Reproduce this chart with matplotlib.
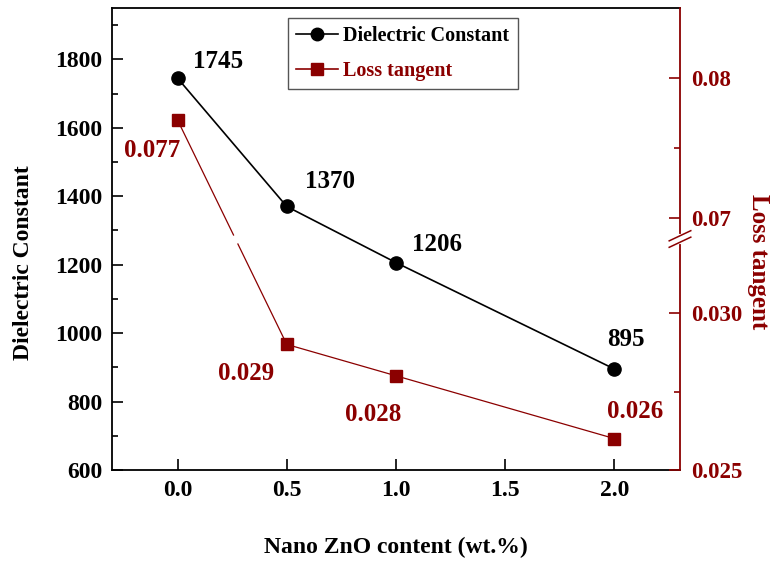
import numpy as np
import matplotlib
matplotlib.use("Agg")
import matplotlib.pyplot as plt
from matplotlib.lines import Line2D
from matplotlib.ticker import FixedLocator, FixedFormatter, MultipleLocator

# ---- data ----
zno = [0.0, 0.5, 1.0, 2.0]
dielectric = [1745, 1370, 1206, 895]
loss = [0.077, 0.029, 0.028, 0.026]
dielectric_labels = ["1745", "1370", "1206", "895"]
loss_labels = ["0.077", "0.029", "0.028", "0.026"]
loss_ticks = [0.025, 0.030, 0.07, 0.08]
loss_tick_labels = ["0.025", "0.030", "0.07", "0.08"]
loss_minor = [0.0275, 0.075]

RED = "#8B0000"
plt.rcParams["font.family"] = ["Liberation Serif", "DejaVu Serif"]
plt.rcParams["font.weight"] = "bold"

# broken-axis scale for loss tangent
F_LO, F_HI = 230.0, 232.0
L = 0.025 + F_LO / 31400.0
U = 0.07 - (252.0 - F_HI) / 14000.0


def fwd(v):
    v = np.asarray(v, dtype=float)
    return np.where(v <= L, (v - 0.025) * 31400.0,
                    np.where(v >= U, 252.0 + (v - 0.07) * 14000.0,
                             F_LO + (v - L) / (U - L) * (F_HI - F_LO)))


def inv(f):
    f = np.asarray(f, dtype=float)
    return np.where(f <= F_LO, 0.025 + f / 31400.0,
                    np.where(f >= F_HI, 0.07 + (f - 252.0) / 14000.0,
                             L + (f - F_LO) / (F_HI - F_LO) * (U - L)))


fig = plt.figure(figsize=(7.7, 5.61), dpi=100)
ax = fig.add_axes([112 / 770, 91 / 561, 568 / 770, 462 / 561])
ax2 = ax.twinx()

# dielectric constant
ax.plot(zno, dielectric, color="black", lw=1.2, marker="o", ms=9.5, zorder=3)
ax.set_xlim(-0.3, 2.3)
ax.set_ylim(600, 1950)
ax.yaxis.set_major_locator(FixedLocator([600, 800, 1000, 1200, 1400, 1600, 1800]))
ax.yaxis.set_minor_locator(MultipleLocator(100))
ax.xaxis.set_major_locator(FixedLocator([0.0, 0.5, 1.0, 1.5, 2.0]))
ax.xaxis.set_major_formatter(FixedFormatter(["0.0", "0.5", "1.0", "1.5", "2.0"]))
ax.tick_params(axis="both", which="major", direction="in", length=8, width=1.2,
               labelsize=17, pad=7)
ax.tick_params(axis="y", which="minor", direction="in", length=4.5, width=1.2)
ax.tick_params(axis="x", which="minor", bottom=False)
for s in ["left", "bottom", "top"]:
    ax.spines[s].set_linewidth(1.3)
ax.spines["right"].set_visible(False)

ax.set_xlabel("Nano ZnO content (wt.%)", fontsize=17, fontweight="bold")
ax.xaxis.set_label_coords(0.5, -0.167)
ax.xaxis.label.set_va("center")
ax.set_ylabel("Dielectric Constant", fontsize=17, fontweight="bold")
ax.yaxis.set_label_coords(-0.155, 0.448)
ax.yaxis.label.set_va("center")

# loss tangent on broken scale
ax2.set_yscale("function", functions=(fwd, inv))
ax2.set_ylim(0.025, 0.085)
ax2.yaxis.set_major_locator(FixedLocator(loss_ticks))
ax2.yaxis.set_major_formatter(FixedFormatter(loss_tick_labels))
ax2.yaxis.set_minor_locator(FixedLocator(loss_minor))
ax2.tick_params(axis="y", which="major", direction="in", length=8, width=1.2,
                labelsize=16.5, pad=8, colors=RED)
ax2.tick_params(axis="y", which="minor", direction="in", length=4.5, width=1.2,
                colors=RED)
ax2.spines["right"].set_color(RED)
ax2.spines["right"].set_linewidth(1.3)
for s in ["left", "bottom", "top"]:
    ax2.spines[s].set_visible(False)

# line with gap at the axis break
f0, f1 = float(fwd(loss[0])), float(fwd(loss[1]))
fa, fb = F_LO + 5, F_LO - 4
xa = zno[0] + (fa - f0) / (f1 - f0) * (zno[1] - zno[0])
xb = zno[0] + (fb - f0) / (f1 - f0) * (zno[1] - zno[0])
lx = [zno[0], xa, np.nan, xb] + zno[1:]
ly = [loss[0], float(inv(fa)), np.nan, float(inv(fb))] + loss[1:]
ax2.plot(lx, ly, color=RED, lw=0.9, zorder=2)
ax2.plot(zno, loss, color=RED, ls="none", marker="s", ms=9, zorder=3)

# break marks on right spine
yc = (F_LO + 1) / 462.0
dx, dy = 0.019, 0.011
ax2.plot([1, 1], [yc - 0.007, yc + 0.007], transform=ax2.transAxes, color="white",
         lw=3, clip_on=False, zorder=5)
for off in (-0.007, 0.007):
    ax2.plot([1 - dx, 1 + dx], [yc + off - dy, yc + off + dy], transform=ax2.transAxes,
             color=RED, lw=1.1, clip_on=False, zorder=6)

# annotations
d_off = [(29, 12), (31, 18), (29.5, 13), (8, 21.6)]
for x, y, t, o in zip(zno, dielectric, dielectric_labels, d_off):
    ax.annotate(t, (x, y), xytext=o, textcoords="offset points", ha="center",
                va="center", fontsize=18, fontweight="bold", color="black")
l_off = [(-18, -21.6), (-29, -21), (-16.5, -28), (15, 19.5)]
for x, y, t, o in zip(zno, loss, loss_labels, l_off):
    ax2.annotate(t, (x, y), xytext=o, textcoords="offset points", ha="center",
                 va="center", fontsize=18, fontweight="bold", color=RED)

ax2.text(1.139, 0.45, "Loss tangent", transform=ax2.transAxes, rotation=270,
         ha="center", va="center", fontsize=18, fontweight="bold", color=RED)

# legend
handles = [Line2D([], [], color="black", lw=1.2, marker="o", ms=9),
           Line2D([], [], color=RED, lw=1.2, marker="s", ms=8)]
leg = ax2.legend(handles, ["Dielectric Constant", "Loss tangent"], loc="upper left",
                 bbox_to_anchor=(0.31, 0.978), borderaxespad=0, fancybox=False,
                 edgecolor="#555555", framealpha=1, fontsize=14.5, handlelength=2.1,
                 handletextpad=0.25, borderpad=0.4, labelspacing=0.72)
leg.get_frame().set_linewidth(1.0)
for txt, c in zip(leg.get_texts(), ["black", RED]):
    txt.set_color(c)
    txt.set_fontweight("bold")

fig.savefig("out.png", dpi=100)
